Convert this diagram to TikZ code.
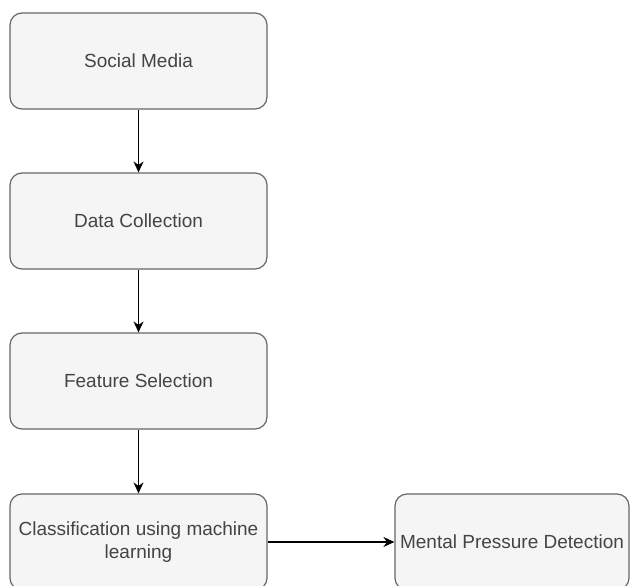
\documentclass[tikz,border=0pt]{standalone}
\usepackage{fontspec}
\setmainfont{Liberation Sans}
\usetikzlibrary{arrows.meta}
\definecolor{boxfill}{HTML}{F5F5F5}
\definecolor{boxline}{HTML}{666666}
\definecolor{boxtext}{HTML}{444444}
\begin{document}
\begin{tikzpicture}[x=1pt,y=-1pt,
  stage/.style={draw=boxline, fill=boxfill, line width=1.2pt, rounded corners=12pt,
    minimum height=96pt, inner sep=2pt, text=boxtext, align=center,
    font=\fontsize{19}{23}\selectfont},
  flow/.style={-{Stealth[length=11pt,width=10pt]}, line width=1.5pt, black}]
  \fill[white] (0,0) rectangle (630,586);
  \clip (0,0) rectangle (630,586);
  \useasboundingbox (0,0) rectangle (630,586);

  \node[stage, minimum width=257pt] (social) at (138.5,61) {Social Media};
  \node[stage, minimum width=257pt] (collect) at (138.5,221) {Data Collection};
  \node[stage, minimum width=257pt] (feature) at (138.5,381) {Feature Selection};
  \node[stage, minimum width=257pt] (classify) at (138.5,542) {Classification using machine\\learning};
  \node[stage, minimum width=234pt] (detect) at (512,542) {Mental Pressure Detection};

  \draw[flow] (social) -- (collect);
  \draw[flow] (collect) -- (feature);
  \draw[flow] (feature) -- (classify);
  \draw[flow] (classify) -- (detect);
\end{tikzpicture}
\end{document}
